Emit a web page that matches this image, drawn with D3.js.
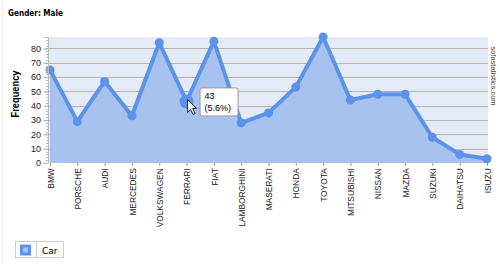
<!DOCTYPE html>
<html><head><meta charset="utf-8">
<script src="https://cdn.jsdelivr.net/npm/d3@7"></script>
<style>
body{margin:0;background:#fff;}
svg{display:block;font-family:"Liberation Sans",Arial,sans-serif;}
</style></head>
<body><svg id="c" width="500" height="264"></svg>
<script>
const categories=["BMW","PORSCHE","AUDI","MERCEDES","VOLKSWAGEN","FERRARI","FIAT","LAMBORGHINI","MASERATI","HONDA","TOYOTA","MITSUBISHI","NISSAN","MAZDA","SUZUKI","DAIHATSU","ISUZU"];
const values=[65,29,57,33,84,43,85,28,35,53,88,44,48,48,18,6,3];
const yTicks=[0,10,20,30,40,50,60,70,80];
const title="Gender: Male";
const yLabel="Frequency";
const seriesName="Car";
const highlight="FERRARI";

const svg=d3.select("#c");
const L=48,R=488,T=37,B=163;
const x=d3.scalePoint().domain(categories).range([50,487]);
const y=d3.scaleLinear().domain([0,88]).range([B,T]);

svg.append("rect").attr("x",2).attr("y",0).attr("width",1).attr("height",264).attr("fill","#eee");
svg.append("text").attr("x",8).attr("y",16).attr("font-size",9).attr("font-weight","bold")
 .attr("font-family","'DejaVu Sans',sans-serif").attr("textLength",55).attr("lengthAdjust","spacingAndGlyphs").text(title);

svg.append("rect").attr("x",L).attr("y",T).attr("width",R-L).attr("height",B-T).attr("fill","#e4ebf6");
svg.append("g").selectAll("line").data(yTicks.filter(d=>d>0)).join("line")
 .attr("x1",L).attr("x2",R).attr("y1",d=>Math.round(y(d))+0.5).attr("y2",d=>Math.round(y(d))+0.5)
 .attr("stroke","#b8b0b0").attr("stroke-width",1);

const area=d3.area().x((d,i)=>x(categories[i])).y0(B).y1(d=>y(d));
svg.append("path").datum(values).attr("d",area).attr("fill","#a7c2ee");
const line=d3.line().x((d,i)=>x(categories[i])).y(d=>y(d));
svg.append("path").datum(values).attr("d",line).attr("fill","none").attr("stroke","#5b93ea").attr("stroke-width",4).attr("stroke-linejoin","round");
svg.append("g").selectAll("circle").data(values).join("circle")
 .attr("cx",(d,i)=>x(categories[i])).attr("cy",d=>y(d))
 .attr("r",(d,i)=>categories[i]===highlight?7:4.5).attr("fill","#5b93ea");

// y axis
const ya=svg.append("g").attr("transform",`translate(${L},0)`)
 .call(d3.axisLeft(y).tickValues(yTicks).tickSize(4).tickFormat(d3.format("d")));
ya.select(".domain").attr("stroke","#bbb");
ya.selectAll(".tick line").attr("stroke","#999");
ya.selectAll("text").attr("font-size",9).attr("fill","#222");
const minor=d3.range(0,89,2);
svg.append("g").selectAll("line").data(minor).join("line")
 .attr("x1",L-2).attr("x2",L).attr("y1",d=>Math.round(y(d))+0.5).attr("y2",d=>Math.round(y(d))+0.5).attr("stroke","#bbb");

// x axis
const xa=svg.append("g").attr("transform",`translate(0,${B})`)
 .call(d3.axisBottom(x).tickSize(3));
xa.select(".domain").remove();
xa.selectAll(".tick line").attr("stroke","#999");
xa.selectAll("text").attr("font-size",9.5).attr("fill","#222")
 .attr("transform","rotate(-90) scale(0.88,1)").attr("text-anchor","end").attr("x",-6).attr("y",0).attr("dy","0.33em");

svg.append("text").attr("transform","translate(19,94) rotate(-90)").attr("text-anchor","middle")
 .attr("font-size",10).attr("font-weight","bold").attr("textLength",47).attr("lengthAdjust","spacingAndGlyphs").text(yLabel);
svg.append("text").attr("transform","translate(491,76) rotate(90)").attr("text-anchor","middle")
 .attr("font-size",7.5).attr("fill","#444").text("sofastatistics.com");

// tooltip
const hi=categories.indexOf(highlight);
const total=d3.sum(values);
const tx=x(highlight)+13, ty=y(values[hi])-14;
const tg=svg.append("g").attr("transform",`translate(${tx},${ty})`);
tg.append("rect").attr("x",0.5).attr("y",0.5).attr("width",38).attr("height",28).attr("rx",2).attr("fill","#fff").attr("stroke","#999");
tg.append("text").attr("x",5).attr("y",12).attr("font-size",9).text(values[hi]);
tg.append("text").attr("x",5).attr("y",24).attr("font-size",9).text(`(${(values[hi]/total*100).toFixed(1)}%)`);
// cursor
const cx0=x(highlight)+1, cy0=y(values[hi])-2;
svg.append("path").attr("transform",`translate(${cx0},${cy0})`)
 .attr("d","M0,0 L0,13 L3,10 L5.5,15 L7.5,14 L5,9 L9,9 Z").attr("fill","#fff").attr("stroke","#000").attr("stroke-width",0.8);

// legend
const lg=svg.append("g").attr("transform","translate(15,241)");
lg.append("rect").attr("x",0.5).attr("y",0.5).attr("width",48).attr("height",16).attr("fill","#fff").attr("stroke","#ccc");
lg.append("line").attr("x1",21.5).attr("x2",21.5).attr("y1",1).attr("y2",16).attr("stroke","#ccc");
lg.append("rect").attr("x",5).attr("y",3.5).attr("width",11).attr("height",11).attr("fill","#5b93ea");
lg.append("rect").attr("x",8).attr("y",6.5).attr("width",5).attr("height",5).attr("fill","#a7c2ee");
lg.append("text").attr("x",27).attr("y",12.5).attr("font-size",9).attr("font-family","'DejaVu Sans',sans-serif").text(seriesName);
</script></body></html>
